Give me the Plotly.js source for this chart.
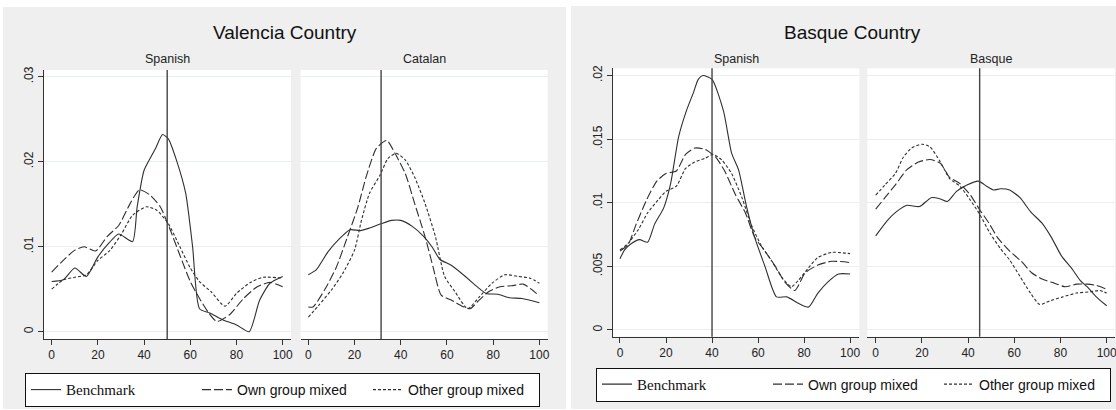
<!DOCTYPE html>
<html>
<head>
<meta charset="utf-8">
<script src="https://cdn.plot.ly/plotly-3.0.1.min.js"></script>
<style>
  html, body { margin: 0; padding: 0; background: #ffffff; overflow: hidden; }
  #chart { width: 1116px; height: 410px; }
</style>
</head>
<body>
<div id="chart"></div>
<script>
// ---- Valencia Country, Spanish ----
const valSpaBenchX = [0, 5, 10, 15, 20, 25, 29, 35, 37, 40, 43, 45, 48, 50.5, 54, 58, 61, 64, 68.5, 74, 80, 85.5, 90, 94.5, 100];
const valSpaBenchY = [0.0059, 0.0061, 0.0075, 0.0065, 0.0088, 0.0105, 0.0115, 0.0106, 0.0147, 0.0190, 0.0206, 0.0216, 0.0232, 0.0227, 0.0202, 0.0163, 0.0100, 0.0027, 0.0022, 0.0014, 0.0008, 0.0000, 0.0037, 0.0057, 0.0065];
const valSpaOwnX = [0, 5, 10, 14, 19, 24, 29, 34, 38, 42.5, 47, 51, 55.5, 60, 64, 68, 71.5, 77, 83, 89, 94.5, 100];
const valSpaOwnY = [0.0070, 0.0084, 0.0096, 0.0100, 0.0095, 0.0112, 0.0125, 0.0151, 0.0167, 0.0161, 0.0147, 0.0122, 0.0090, 0.0059, 0.0039, 0.0022, 0.0012, 0.0020, 0.0039, 0.0053, 0.0058, 0.0053];
const valSpaOtherX = [0, 5, 10, 15, 20, 25, 30, 35, 41, 45.5, 50.5, 55.5, 60, 64, 69, 75, 80, 86, 91.5, 100];
const valSpaOtherY = [0.0050, 0.0061, 0.0064, 0.0067, 0.0084, 0.0095, 0.0114, 0.0137, 0.0147, 0.0143, 0.0127, 0.0100, 0.0075, 0.0059, 0.0047, 0.0030, 0.0045, 0.0058, 0.0064, 0.0063];

// ---- Valencia Country, Catalan ----
const valCatBenchX = [0, 3.5, 8.5, 13, 18, 22.5, 26.5, 31.5, 36, 40, 45, 50, 53.5, 57, 62, 68, 73, 77, 82, 87, 92.5, 100];
const valCatBenchY = [0.0067, 0.0073, 0.0094, 0.0108, 0.0120, 0.0119, 0.0122, 0.0127, 0.0131, 0.0131, 0.0124, 0.0112, 0.0100, 0.0085, 0.0078, 0.0065, 0.0053, 0.0045, 0.0044, 0.0040, 0.0039, 0.0034];
const valCatOwnX = [0, 2, 7, 12, 17, 21.5, 25, 29.5, 34, 37.5, 42, 46, 50.5, 54, 57.5, 62, 66.5, 70, 73.5, 78, 83, 88, 93, 96.5, 100];
const valCatOwnY = [0.0029, 0.0029, 0.0049, 0.0075, 0.0112, 0.0147, 0.0182, 0.0216, 0.0225, 0.0210, 0.0186, 0.0151, 0.0112, 0.0076, 0.0043, 0.0037, 0.0030, 0.0027, 0.0036, 0.0047, 0.0053, 0.0054, 0.0056, 0.0050, 0.0042];
const valCatOtherX = [0, 4.5, 10, 15, 20, 23, 26.5, 31, 34.5, 38, 42, 46, 50.5, 55, 59, 63.5, 69, 74, 79.5, 85, 91, 96, 100];
const valCatOtherY = [0.0017, 0.0031, 0.0049, 0.0069, 0.0096, 0.0131, 0.0163, 0.0184, 0.0204, 0.0210, 0.0202, 0.0182, 0.0151, 0.0112, 0.0065, 0.0047, 0.0027, 0.0041, 0.0057, 0.0067, 0.0065, 0.0063, 0.0057];

// ---- Basque Country, Spanish ----
const basSpaBenchX = [0, 2, 5, 8.5, 12, 15, 19, 22, 25.5, 29, 32, 34, 36, 40, 45, 48.5, 51.5, 55, 58.5, 63, 68, 72.5, 77.5, 82, 86, 90.5, 95, 100];
const basSpaBenchY = [0.0056, 0.0063, 0.0068, 0.0071, 0.0069, 0.0083, 0.0096, 0.0115, 0.0152, 0.0173, 0.0187, 0.0197, 0.0200, 0.0197, 0.0172, 0.0139, 0.0126, 0.0097, 0.0073, 0.0050, 0.0026, 0.0026, 0.0021, 0.0018, 0.0029, 0.0038, 0.0044, 0.0044];
const basSpaOwnX = [0, 3.5, 7, 11.5, 16, 20, 24.5, 28.5, 32.5, 37, 41.5, 45.5, 50, 54.5, 58.5, 63, 67.5, 71.5, 76, 80.5, 86, 92, 100];
const basSpaOwnY = [0.0062, 0.0067, 0.0083, 0.0102, 0.0117, 0.0123, 0.0125, 0.0138, 0.0143, 0.0142, 0.0136, 0.0125, 0.0107, 0.0092, 0.0073, 0.0062, 0.0050, 0.0038, 0.0031, 0.0045, 0.0051, 0.0054, 0.0053];
const basSpaOtherX = [0, 3.5, 8, 12, 16.5, 20, 24.5, 28.5, 32.5, 37, 40.5, 44, 48.5, 53, 57, 61.5, 66, 70.5, 74.5, 77.5, 82, 86, 92, 100];
const basSpaOtherY = [0.0063, 0.0068, 0.0079, 0.0092, 0.0102, 0.0109, 0.0113, 0.0127, 0.0132, 0.0135, 0.0138, 0.0134, 0.0123, 0.0104, 0.0083, 0.0066, 0.0054, 0.0041, 0.0034, 0.0039, 0.0049, 0.0057, 0.0061, 0.0060];

// ---- Basque Country, Basque ----
const basBasBenchX = [0, 5, 9, 13.5, 19, 24, 28, 31, 35, 39.5, 44.5, 48, 51, 54, 58, 62.5, 67, 72, 76, 80.5, 85, 88.5, 91.5, 95.5, 100];
const basBasBenchY = [0.0074, 0.0086, 0.0093, 0.0098, 0.0097, 0.0104, 0.0103, 0.0101, 0.0109, 0.0114, 0.0117, 0.0113, 0.0110, 0.0111, 0.0110, 0.0104, 0.0093, 0.0084, 0.0073, 0.0058, 0.0048, 0.0039, 0.0034, 0.0026, 0.0019];
const basBasOwnX = [0, 4, 8.5, 13.5, 18.5, 23.5, 28, 32, 36.5, 41, 44.5, 49, 53, 58, 63, 67.5, 72, 77, 82, 87, 91.5, 95.5, 100];
const basBasOwnY = [0.0095, 0.0104, 0.0114, 0.0126, 0.0132, 0.0134, 0.0131, 0.0120, 0.0115, 0.0106, 0.0096, 0.0084, 0.0072, 0.0062, 0.0054, 0.0045, 0.0040, 0.0037, 0.0034, 0.0036, 0.0036, 0.0035, 0.0032];
const basBasOtherX = [0, 4, 8.5, 12, 15.5, 20, 23.5, 28, 32, 36.5, 41, 45, 49.5, 54, 58, 62.5, 67, 71, 75.5, 81, 87, 93, 97, 100];
const basBasOtherY = [0.0106, 0.0114, 0.0123, 0.0136, 0.0143, 0.0146, 0.0144, 0.0132, 0.0119, 0.0113, 0.0102, 0.0091, 0.0076, 0.0064, 0.0055, 0.0042, 0.0029, 0.0020, 0.0023, 0.0026, 0.0029, 0.0030, 0.0031, 0.0029];

// Vertical reference lines, one per panel
const refLines = [50, 31.5, 40, 45];

// Labels
const graphTitles = ['Valencia Country', 'Basque Country'];
const panelTitles = ['Spanish', 'Catalan', 'Spanish', 'Basque'];
const seriesNames = ['<span style="font-family:\'Liberation Serif\',\'Times New Roman\',serif;font-size:15px;">Benchmark</span>', 'Own group mixed', 'Other group mixed'];

// Axis ticks
const xTicks = [0, 20, 40, 60, 80, 100];
const valYTicks = [0, 0.01, 0.02, 0.03];
const valYTickText = ['0', '.01', '.02', '.03'];
const basYTicks = [0, 0.005, 0.01, 0.015, 0.02];
const basYTickText = ['0', '.005', '.01', '.015', '.02'];

// ---- drawing ----
const W = 1116, H = 410;
const fx = p => p / W;
const fy = p => 1 - p / H;
const SANS = 'Liberation Sans, Arial, Helvetica, sans-serif';
const LINE = '#2f2f2f';
const styles = [
  { color: LINE, width: 1.1, dash: 'solid' },
  { color: LINE, width: 1.1, dash: '9px,3px' },
  { color: LINE, width: 1.1, dash: '3px,2px' }
];

const panels = [
  { xs: [valSpaBenchX, valSpaOwnX, valSpaOtherX], ys: [valSpaBenchY, valSpaOwnY, valSpaOtherY], legend: 'legend', show: true },
  { xs: [valCatBenchX, valCatOwnX, valCatOtherX], ys: [valCatBenchY, valCatOwnY, valCatOtherY], legend: 'legend', show: false },
  { xs: [basSpaBenchX, basSpaOwnX, basSpaOtherX], ys: [basSpaBenchY, basSpaOwnY, basSpaOtherY], legend: 'legend2', show: true },
  { xs: [basBasBenchX, basBasOwnX, basBasOtherX], ys: [basBasBenchY, basBasOwnY, basBasOtherY], legend: 'legend2', show: false }
];

const traces = [];
panels.forEach((p, i) => {
  const sfx = i === 0 ? '' : String(i + 1);
  for (let s = 0; s < 3; s++) {
    traces.push({
      type: 'scatter', mode: 'lines',
      x: p.xs[s], y: p.ys[s],
      xaxis: 'x' + sfx, yaxis: 'y' + sfx,
      name: seriesNames[s],
      legend: p.legend,
      showlegend: p.show,
      line: { color: styles[s].color, width: styles[s].width, dash: styles[s].dash, shape: 'spline', smoothing: 0.6 },
      hoverinfo: 'skip'
    });
  }
});

// panel geometry in pixels: [left, right, top, bottom, xmin, xmax, ymin, ymax]
const geo = [
  [44, 291, 70, 339, -3.33, 103.6, -0.00086, 0.0308],
  [300.7, 547.7, 70, 339, -3.29, 103.6, -0.00086, 0.0308],
  [612.7, 859.3, 68.3, 336.7, -3.17, 104.0, -0.00053, 0.02057],
  [867.3, 1115, 68.3, 336.7, -3.64, 103.6, -0.00053, 0.02057]
];

const tickFont = { family: SANS, size: 12, color: '#222' };
const layout = {
  width: W, height: H,
  margin: { l: 0, r: 0, t: 0, b: 0, autoexpand: false },
  paper_bgcolor: '#efefef',
  plot_bgcolor: '#ffffff',
  showlegend: true,
  shapes: [],
  annotations: []
};

geo.forEach((g, i) => {
  const sfx = i === 0 ? '' : String(i + 1);
  const first = (i % 2 === 0);
  const yt = i < 2 ? valYTicks : basYTicks;
  const ytt = i < 2 ? valYTickText : basYTickText;
  layout['xaxis' + sfx] = {
    domain: [fx(g[0]), fx(g[1])], anchor: 'y' + sfx,
    range: [g[4], g[5]], tickvals: xTicks, ticktext: xTicks.map(String),
    ticks: 'outside', ticklen: 5, tickwidth: 1, tickcolor: '#333',
    showline: true, linecolor: '#333', linewidth: 1,
    showgrid: false, zeroline: false, tickfont: tickFont, fixedrange: true,
    automargin: false, ticklabeloverflow: 'allow'
  };
  layout['yaxis' + sfx] = {
    domain: [fy(g[3]), fy(g[2])], anchor: 'x' + sfx,
    range: [g[6], g[7]], tickvals: yt, ticktext: ytt,
    ticks: first ? 'outside' : '', ticklen: 5, tickwidth: 1, tickcolor: '#333',
    showticklabels: first, tickangle: -90,
    showline: first, linecolor: '#333', linewidth: 1,
    showgrid: true, gridcolor: '#e7efef', gridwidth: 1,
    zeroline: false, tickfont: tickFont, fixedrange: true,
    automargin: false
  };
  layout.shapes.push({
    type: 'line', xref: 'x' + sfx, yref: 'y' + sfx + ' domain',
    x0: refLines[i], x1: refLines[i], y0: 0, y1: 1,
    line: { color: '#444', width: 1.4 }, layer: 'above'
  });
  layout.annotations.push({
    xref: 'paper', yref: 'paper', x: fx((g[0] + g[1]) / 2), y: fy(59),
    text: panelTitles[i], showarrow: false, xanchor: 'center', yanchor: 'middle',
    font: { family: SANS, size: 12.5, color: '#222' }
  });
});

// white margins around and between the two grey graph regions
[
  [0, 3, 0, 410], [0, 566, 0, 7], [566, 571, 0, 410], [571, 1116, 0, 6], [0, 1116, 409, 410]
].forEach(r => layout.shapes.push({
  type: 'rect', xref: 'paper', yref: 'paper', layer: 'below',
  x0: fx(r[0]), x1: fx(r[1]), y0: fy(r[3]), y1: fy(r[2]),
  fillcolor: '#ffffff', line: { width: 0 }
}));

// graph titles
[[285.3, 33], [852, 33]].forEach((c, i) => layout.annotations.push({
  xref: 'paper', yref: 'paper', x: fx(c[0]), y: fy(c[1]),
  text: graphTitles[i], showarrow: false, xanchor: 'center', yanchor: 'middle',
  font: { family: SANS, size: 19, color: '#111' }
}));

const legendBase = {
  orientation: 'h', xanchor: 'left', yanchor: 'top',
  bgcolor: '#ffffff', bordercolor: '#111', borderwidth: 1,
  font: { family: SANS, size: 14, color: '#111' },
  entrywidth: 126, entrywidthmode: 'pixels',
  itemclick: false, itemdoubleclick: false
};
layout.legend = Object.assign({}, legendBase, { x: fx(25), y: fy(373) });
layout.legend2 = Object.assign({}, legendBase, { x: fx(596), y: fy(367.5) });

Plotly.newPlot('chart', traces, layout, { staticPlot: true, displayModeBar: false });
</script>
</body>
</html>
